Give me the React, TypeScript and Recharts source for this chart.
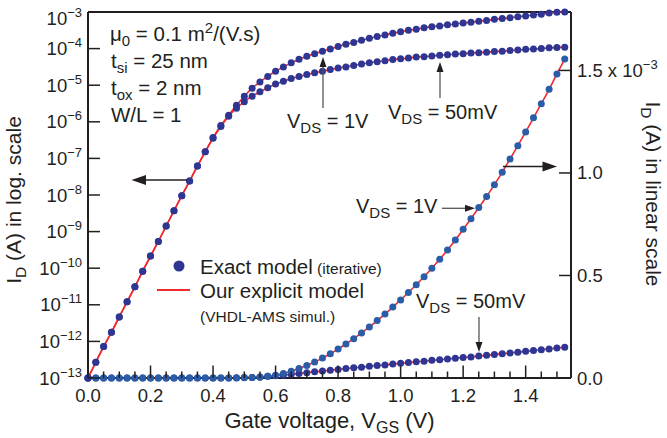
import React from 'react';
import { ComposedChart, Line, XAxis, YAxis, ReferenceLine } from 'recharts';

// Gate voltage samples (V)
const vgs = [
  0, 0.025, 0.05, 0.075, 0.1, 0.125, 0.15, 0.175, 0.2, 0.225,
  0.25, 0.275, 0.3, 0.325, 0.35, 0.375, 0.4, 0.425, 0.45, 0.475,
  0.5, 0.525, 0.55, 0.575, 0.6, 0.625, 0.65, 0.675, 0.7, 0.725,
  0.75, 0.775, 0.8, 0.825, 0.85, 0.875, 0.9, 0.925, 0.95, 0.975,
  1.0, 1.025, 1.05, 1.075, 1.1, 1.125, 1.15, 1.175, 1.2, 1.225,
  1.25, 1.275, 1.3, 1.325, 1.35, 1.375, 1.4, 1.425, 1.45, 1.475,
  1.5, 1.525,
];

// log10 of I_D (A), V_DS = 1 V (read on the left log axis)
const logId1V = [
  -13.0, -12.57, -12.14, -11.75, -11.33, -10.92, -10.51, -10.08, -9.67, -9.27,
  -8.85, -8.43, -8.02, -7.62, -7.21, -6.82, -6.43, -6.1, -5.82, -5.55,
  -5.3, -5.08, -4.91, -4.76, -4.62, -4.5, -4.39, -4.29, -4.21, -4.14,
  -4.07, -4.01, -3.94, -3.88, -3.83, -3.77, -3.72, -3.67, -3.63, -3.58,
  -3.54, -3.5, -3.47, -3.43, -3.4, -3.38, -3.35, -3.33, -3.3, -3.28,
  -3.25, -3.23, -3.2, -3.18, -3.16, -3.13, -3.11, -3.08, -3.06, -3.03,
  -3.01, -3.0,
];

// log10 of I_D (A), V_DS = 50 mV
const logId50mV = [
  -13.0, -12.57, -12.14, -11.75, -11.33, -10.92, -10.51, -10.08, -9.67, -9.27,
  -8.85, -8.43, -8.02, -7.62, -7.21, -6.82, -6.45, -6.13, -5.85, -5.63,
  -5.45, -5.3, -5.18, -5.07, -4.97, -4.89, -4.82, -4.76, -4.71, -4.66,
  -4.62, -4.57, -4.53, -4.5, -4.46, -4.42, -4.39, -4.36, -4.33, -4.3,
  -4.28, -4.26, -4.23, -4.22, -4.2, -4.18, -4.17, -4.15, -4.14, -4.12,
  -4.11, -4.1, -4.08, -4.07, -4.05, -4.04, -4.02, -4.01, -4.0, -3.98,
  -3.97, -3.96,
];

// I_D in units of 1e-3 A (right linear axis), V_DS = 1 V
const linId1V = [
  0, 0, 0, 0, 0, 0, 0, 0, 0, 0,
  0, 0, 0, 0, 0, 0, 0, 0, 0, 0.0,
  0.001, 0.002, 0.004, 0.008, 0.014, 0.022, 0.033, 0.046, 0.061, 0.078,
  0.097, 0.118, 0.141, 0.166, 0.192, 0.22, 0.249, 0.28, 0.312, 0.346,
  0.381, 0.417, 0.455, 0.494, 0.535, 0.579, 0.624, 0.673, 0.725, 0.777,
  0.831, 0.885, 0.943, 1.003, 1.068, 1.133, 1.2, 1.269, 1.338, 1.408,
  1.483, 1.556,
];

// I_D in units of 1e-3 A, V_DS = 50 mV
const linId50mV = [
  0, 0, 0, 0, 0, 0, 0, 0, 0, 0,
  0, 0, 0, 0, 0, 0, 0, 0, 0, 0.001,
  0.002, 0.003, 0.005, 0.008, 0.011, 0.014, 0.018, 0.022, 0.026, 0.03,
  0.034, 0.038, 0.042, 0.046, 0.05, 0.053, 0.057, 0.061, 0.064, 0.068,
  0.072, 0.075, 0.079, 0.082, 0.086, 0.089, 0.093, 0.096, 0.1, 0.103,
  0.107, 0.111, 0.115, 0.118, 0.122, 0.126, 0.13, 0.134, 0.138, 0.142,
  0.146, 0.15,
];

const xTicks = [
  0, 0.05, 0.1, 0.15, 0.2, 0.25, 0.3, 0.35, 0.4, 0.45, 0.5, 0.55, 0.6, 0.65, 0.7, 0.75,
  0.8, 0.85, 0.9, 0.95, 1.0, 1.05, 1.1, 1.15, 1.2, 1.25, 1.3, 1.35, 1.4, 1.45, 1.5,
];
const xMajorTicks = [0, 0.2, 0.4, 0.6, 0.8, 1.0, 1.2, 1.4];
const xMajorLabels = ['0.0', '0.2', '0.4', '0.6', '0.8', '1.0', '1.2', '1.4'];
const logTickExponents = [-13, -12, -11, -10, -9, -8, -7, -6, -5, -4, -3];
const linTicks = [0, 0.5, 1.0, 1.5];
const linTickLabels = ['0.0', '0.5', '1.0', '1.5'];

const data = vgs.map((v, i) => ({
  v,
  log1: Math.pow(10, logId1V[i]),
  log50: Math.pow(10, logId50mV[i]),
  lin1: linId1V[i],
  lin50: linId50mV[i],
}));

const FONT = '"Liberation Sans", Arial, Helvetica, sans-serif';
const INK = '#231f20';
const NAVY = '#2e3592';
const BLUE = '#2a5ca8';
const RED = '#ee2a2f';
const GREY = '#555555';

const XTick = (props: any) => {
  const { x, y, payload } = props;
  const v = payload.value;
  const idx = xMajorTicks.findIndex((t) => Math.abs(t - v) < 1e-6);
  const major = idx >= 0;
  return (
    <g>
      <line x1={x} x2={x} y1={y} y2={y - (major ? 12.5 : 6.5)} stroke={INK} strokeWidth={1.5} />
      {major && (
        <text x={x} y={y + 23.5} textAnchor="middle" fontSize={18.5} fontFamily={FONT} fill={INK}>
          {xMajorLabels[idx]}
        </text>
      )}
    </g>
  );
};

const LogTick = (props: any) => {
  const { x, y, payload } = props;
  const e = Math.round(Math.log10(payload.value));
  const ty = e === -3 ? y + 6 : y;
  return (
    <g>
      <line x1={x} x2={x + 12} y1={y} y2={y} stroke={INK} strokeWidth={1.5} />
      <text x={x - 6} y={ty + 6.5} textAnchor="end" fontSize={18.5} fontFamily={FONT} fill={INK}>
        <tspan>10</tspan>
        <tspan dy={-8} fontSize={13}>{'\u2212' + Math.abs(e)}</tspan>
      </text>
    </g>
  );
};

const LinTick = (props: any) => {
  const { x, y, payload } = props;
  const v = payload.value;
  const idx = linTicks.findIndex((t) => Math.abs(t - v) < 1e-6);
  const last = idx === linTicks.length - 1;
  return (
    <g>
      <line x1={x} x2={x - 12} y1={y} y2={y} stroke={INK} strokeWidth={1.5} />
      <text x={x + 6} y={y + 6.5} fontSize={18.5} fontFamily={FONT} fill={INK}>
        <tspan>{linTickLabels[idx]}</tspan>
        {last && <tspan> x 10</tspan>}
        {last && (
          <tspan dy={-8} fontSize={13}>
            {'\u22123'}
          </tspan>
        )}
      </text>
    </g>
  );
};

const Sub = ({ children, size = 15 }: any) => (
  <tspan dy={5} fontSize={size}>
    {children}
  </tspan>
);

const Overlay = () => (
  <svg
    width={667}
    height={438}
    style={{ position: 'absolute', left: 0, top: 0, pointerEvents: 'none' }}
    fontFamily={FONT}
    fill={INK}
  >
    {/* parameters */}
    <text x={110} y={41} fontSize={20.5}>
      {'\u03bc'}
      <Sub>0</Sub>
      <tspan dy={-5}> = 0.1 m</tspan>
      <tspan dy={-8} fontSize={15}>2</tspan>
      <tspan dy={8}>/(V.s)</tspan>
    </text>
    <text x={111} y={68} fontSize={20.5}>
      t<Sub>si</Sub>
      <tspan dy={-5}> = 25 nm</tspan>
    </text>
    <text x={111} y={95} fontSize={20.5}>
      t<Sub>ox</Sub>
      <tspan dy={-5}> = 2 nm</tspan>
    </text>
    <text x={111} y={122} fontSize={20.5}>
      W/L = 1
    </text>

    {/* log-curve annotations */}
    <text x={287} y={128} fontSize={20}>
      V<Sub>DS</Sub>
      <tspan dy={-5}> = 1V</tspan>
    </text>
    <line x1={323} y1={108} x2={323} y2={66} stroke={GREY} strokeWidth={1.3} />
    <polygon points="323,57 319.5,67 326.5,67" fill={INK} />

    <text x={388} y={119} fontSize={20}>
      V<Sub>DS</Sub>
      <tspan dy={-5}> = 50mV</tspan>
    </text>
    <line x1={440} y1={98} x2={440} y2={71} stroke={GREY} strokeWidth={1.3} />
    <polygon points="440,62 436.5,72 443.5,72" fill={INK} />

    {/* axis side arrows */}
    <line x1={187} y1={180} x2={145} y2={180} stroke={INK} strokeWidth={1.5} />
    <polygon points="131.5,180 146,175 146,185" fill={INK} />
    <line x1={503} y1={166.5} x2={543} y2={166.5} stroke={INK} strokeWidth={1.5} />
    <polygon points="557,166.5 542.5,161.5 542.5,171.5" fill={INK} />

    {/* linear-curve annotations */}
    <text x={356} y={213} fontSize={20}>
      V<Sub>DS</Sub>
      <tspan dy={-5}> = 1V</tspan>
    </text>
    <line x1={442} y1={208.3} x2={466} y2={208.3} stroke={GREY} strokeWidth={1.3} />
    <polygon points="475,208.3 465,204.8 465,211.8" fill={INK} />

    <text x={416} y={308} fontSize={20}>
      V<Sub>DS</Sub>
      <tspan dy={-5}> = 50mV</tspan>
    </text>
    <line x1={479} y1={317} x2={479} y2={343} stroke={GREY} strokeWidth={1.3} />
    <polygon points="479,352 475.5,342 482.5,342" fill={INK} />

    {/* legend */}
    <circle cx={179} cy={266} r={5.5} fill={NAVY} />
    <text x={200} y={274} fontSize={20.5}>
      Exact model
      <tspan fontSize={15.5}> (iterative)</tspan>
    </text>
    <line x1={157} y1={290} x2={190} y2={290} stroke={RED} strokeWidth={2} />
    <text x={200} y={298} fontSize={20.5}>
      Our explicit model
    </text>
    <text x={200} y={322} fontSize={15.5}>
      (VHDL-AMS simul.)
    </text>

    {/* axis titles */}
    <text x={329.5} y={428} fontSize={22} textAnchor="middle">
      Gate voltage, V<Sub size={16}>GS</Sub>
      <tspan dy={-5}> (V)</tspan>
    </text>
    <text x={21} y={200} fontSize={21} textAnchor="middle" transform="rotate(-90, 21, 200)">
      I<Sub size={15.5}>D</Sub>
      <tspan dy={-5}> (A) in log. scale</tspan>
    </text>
    <text x={646} y={194} fontSize={21} textAnchor="middle" transform="rotate(90, 646, 194)">
      I<Sub size={15.5}>D</Sub>
      <tspan dy={-5}> (A) in linear scale</tspan>
    </text>
  </svg>
);

export default function App() {
  return (
    <div style={{ position: 'fixed', left: 0, top: 0, width: 667, height: 438, background: '#fff' }}>
      <ComposedChart
        width={667}
        height={438}
        data={data}
        margin={{ top: 12, right: 0, bottom: 0, left: 0 }}
      >
        <XAxis
          xAxisId="x"
          dataKey="v"
          type="number"
          domain={[0, 1.545]}
          ticks={xTicks}
          interval={0}
          tick={(p: any) => <XTick {...p} />}
          tickLine={false}
          tickSize={0}
          tickMargin={0}
          height={60}
          axisLine={{ stroke: INK, strokeWidth: 2 }}
        />
        <YAxis
          yAxisId="log"
          orientation="left"
          type="number"
          scale="log"
          domain={[1e-13, 1e-3]}
          ticks={logTickExponents.map((e) => Math.pow(10, e))}
          interval={0}
          width={88}
          tick={(p: any) => <LogTick {...p} />}
          tickLine={false}
          tickSize={0}
          tickMargin={0}
          axisLine={{ stroke: INK, strokeWidth: 2 }}
        />
        <YAxis
          yAxisId="lin"
          orientation="right"
          type="number"
          domain={[0, 1.785]}
          ticks={linTicks}
          interval={0}
          width={96}
          tick={(p: any) => <LinTick {...p} />}
          tickLine={false}
          tickSize={0}
          tickMargin={0}
          axisLine={{ stroke: INK, strokeWidth: 2 }}
        />
        <ReferenceLine xAxisId="x" yAxisId="log" y={1e-3} stroke={INK} strokeWidth={2} ifOverflow="visible" />

        <Line xAxisId="x" yAxisId="lin" dataKey="lin50" stroke="none" dot={{ r: 3.5, fill: NAVY, stroke: 'none' }} activeDot={false} isAnimationActive={false} />
        <Line xAxisId="x" yAxisId="lin" dataKey="lin1" stroke="none" dot={{ r: 3.5, fill: BLUE, stroke: 'none' }} activeDot={false} isAnimationActive={false} />
        <Line xAxisId="x" yAxisId="log" dataKey="log50" stroke="none" dot={{ r: 3.5, fill: NAVY, stroke: 'none' }} activeDot={false} isAnimationActive={false} />
        <Line xAxisId="x" yAxisId="log" dataKey="log1" stroke="none" dot={{ r: 3.5, fill: NAVY, stroke: 'none' }} activeDot={false} isAnimationActive={false} />

        <Line xAxisId="x" yAxisId="lin" dataKey="lin50" type="monotone" stroke={RED} strokeWidth={1.6} dot={false} activeDot={false} isAnimationActive={false} />
        <Line xAxisId="x" yAxisId="lin" dataKey="lin1" type="monotone" stroke={RED} strokeWidth={1.6} dot={false} activeDot={false} isAnimationActive={false} />
        <Line xAxisId="x" yAxisId="log" dataKey="log50" type="monotone" stroke={RED} strokeWidth={1.6} dot={false} activeDot={false} isAnimationActive={false} />
        <Line xAxisId="x" yAxisId="log" dataKey="log1" type="monotone" stroke={RED} strokeWidth={1.6} dot={false} activeDot={false} isAnimationActive={false} />
      </ComposedChart>
      <Overlay />
    </div>
  );
}
